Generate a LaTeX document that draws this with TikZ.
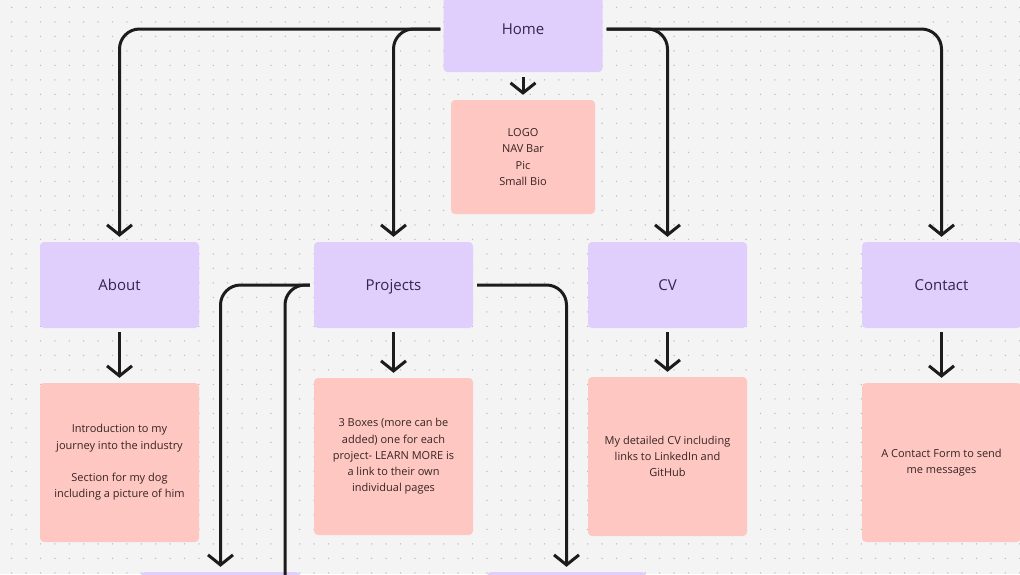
\documentclass[tikz,border=0pt]{standalone}
\usepackage{fontspec}
\setmainfont{Open Sans}
\usetikzlibrary{arrows.meta}
\definecolor{bg}{HTML}{F4F4F4}
\definecolor{dotcol}{HTML}{BEBEBE}
\definecolor{pagefill}{HTML}{E0CEFC}
\definecolor{notefill}{HTML}{FFC7C1}
\definecolor{headtext}{HTML}{36244F}
\definecolor{notetext}{HTML}{352424}
\definecolor{wirecol}{HTML}{1C1C1C}

\begin{document}
\begin{tikzpicture}[x=1pt,y=-1pt,
	page/.style={rounded corners=4pt,fill=pagefill,text=headtext,inner sep=0pt,
		text height=12pt,text depth=1.5pt,
		minimum width=159pt,minimum height=86pt,font=\fontsize{15}{17}\selectfont},
	note/.style={rounded corners=4pt,fill=notefill,text=notetext,inner sep=0pt,align=center,
		minimum width=159pt,minimum height=159pt,font=\fontsize{11}{16.3}\selectfont},
	wire/.style={draw=wirecol,line width=3pt,rounded corners=20pt},
	link/.style={wire,-{Straight Barb[length=10pt,width=25pt]}}]
\useasboundingbox (0,0) rectangle (1020,574);
\clip (0,0) rectangle (1020,574);
\fill[bg] (0,0) rectangle (1020,574);
%
\foreach \i in {0,...,70}
	\foreach \j in {0,...,39}
		\fill[dotcol] (11.7+14.4*\i,7.4+14.5*\j) circle (0.8pt);
%
\node[page] (home) at (523,29) {Home};
\node[note,minimum width=144pt,minimum height=114pt] (logo) at (523,157) {LOGO\\NAV Bar\\Pic\\Small Bio};
%
\node[page] (about) at (119.5,285) {About};
\node[page] (proj) at (393.5,285) {Projects};
\node[page] (cv) at (667.5,285) {CV};
\node[page] (contact) at (941.5,285) {Contact};
%
\node[note] (aboutnote) at (119.5,462.5) {Introduction to my\\journey into the industry\\[16.3pt]Section for my dog\\including a picture of him};
\node[note,minimum height=157pt] (projnote) at (393.5,456.5) {3 Boxes (more can be\\added) one for each\\project- LEARN MORE is\\a link to their own\\individual pages};
\node[note,minimum height=159pt] (cvnote) at (667.5,456.5) {My detailed CV including\\links to LinkedIn and\\GitHub};
\node[note] (contactnote) at (941.5,462.5) {A Contact Form to send\\me messages};
%
\node[page] (projone) at (220.5,615) {};
\node[page] (projtwo) at (566.5,615) {};
\coordinate (projoff) at (285,600);
%
\draw[link] ([yshift=-5pt]home.south) -- ([yshift=5pt]logo.north);
\draw[link] ([xshift=-3pt]home.west) -| ([yshift=5pt]about.north);
\draw[link] ([xshift=-3pt]home.west) -| ([yshift=5pt]proj.north);
\draw[link] ([xshift=4pt]home.east) -| ([yshift=5pt]cv.north);
\draw[link] ([xshift=4pt]home.east) -| ([yshift=5pt]contact.north);
%
\draw[link] ([yshift=-4pt]about.south) -- ([yshift=5pt]aboutnote.north);
\draw[link] ([yshift=-4pt]proj.south) -- ([yshift=5pt]projnote.north);
\draw[link] ([yshift=-4pt]cv.south) -- ([yshift=5pt]cvnote.north);
\draw[link] ([yshift=-4pt]contact.south) -- ([yshift=5pt]contactnote.north);
%
\draw[link] ([xshift=-4pt]proj.west) -| ([yshift=5pt]projone.north);
\draw[wire] ([xshift=-4pt]proj.west) -| (projoff);
\draw[link] ([xshift=4pt]proj.east) -| ([yshift=5pt]projtwo.north);
\end{tikzpicture}
\end{document}
